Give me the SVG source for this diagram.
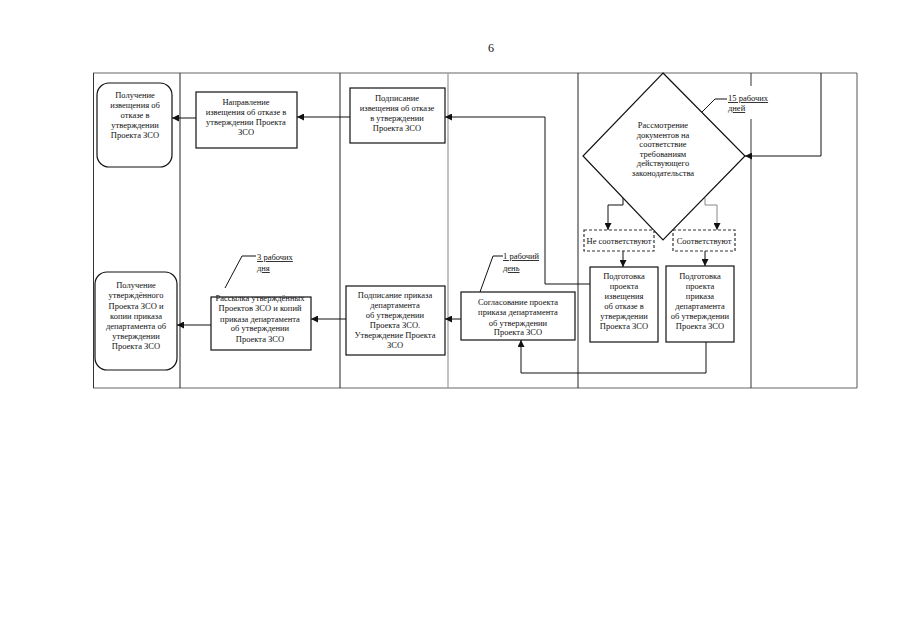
<svg xmlns="http://www.w3.org/2000/svg" width="905" height="640" viewBox="0 0 905 640">
<style>
text{font-family:"Liberation Serif","Times New Roman",serif;font-size:8.5px;fill:#111}
.c{text-anchor:middle}
.box{fill:#fff;stroke:#111;stroke-width:1.2}
.dash{fill:#fff;stroke:#333;stroke-width:1.2;stroke-dasharray:3,2}
.ln{fill:none;stroke:#111;stroke-width:1}
.gl{fill:none;stroke:#888;stroke-width:1}
.lbl{text-decoration:underline}
</style>
<defs>
<marker id="ah" viewBox="0 0 10 10" refX="10" refY="5" markerWidth="7" markerHeight="7" markerUnits="userSpaceOnUse" orient="auto">
<path d="M0,0 L10,5 L0,10 z" fill="#111"/>
</marker>
</defs>
<rect width="905" height="640" fill="#fff"/>
<text x="491" y="52" class="c" style="font-size:12px">6</text>
<g id="frame">
<line x1="93" y1="73" x2="857" y2="73" stroke="#999" stroke-width="1.5"/>
<line x1="93" y1="388" x2="857" y2="388" stroke="#999" stroke-width="1.5"/>
<line x1="93.5" y1="73" x2="93.5" y2="388" stroke="#333"/>
<line x1="857" y1="73" x2="857" y2="388" stroke="#555"/>
<line x1="180" y1="73" x2="180" y2="388" stroke="#222"/>
<line x1="340" y1="73" x2="340" y2="388" stroke="#222"/>
<line x1="448" y1="73" x2="448" y2="388" stroke="#999" stroke-width="1.2"/>
<line x1="578" y1="73" x2="578" y2="388" stroke="#222"/>
<line x1="751" y1="73" x2="751" y2="388" stroke="#333"/>
</g>
<g id="connectors">
<line class="ln" x1="350" y1="117" x2="297" y2="117" marker-end="url(#ah)"/>
<line class="ln" x1="196" y1="118" x2="172" y2="118" stroke-width="2" marker-end="url(#ah)"/>
<polyline class="ln" points="590,284 545,284 545,117 445,117" marker-end="url(#ah)"/>
<polyline class="ln" points="821,73 821,156 745,156" marker-end="url(#ah)"/>
<polyline class="ln" points="623,198 623,205 608,205 608,230" marker-end="url(#ah)"/>
<polyline class="gl" points="705,198 705,205 717,205 717,230" marker-end="url(#ah)"/>
<line class="ln" x1="623" y1="251" x2="623" y2="267" marker-end="url(#ah)"/>
<line class="ln" x1="705" y1="251" x2="705" y2="266" marker-end="url(#ah)"/>
<polyline class="ln" points="706,342 706,373 521,373 521,340" marker-end="url(#ah)"/>
<line class="ln" x1="461" y1="319" x2="445" y2="319" marker-end="url(#ah)"/>
<line class="ln" x1="346" y1="319" x2="311" y2="319" marker-end="url(#ah)"/>
<line class="ln" x1="211" y1="325" x2="177" y2="325" stroke-width="2" marker-end="url(#ah)"/>
</g>
<g id="recv_refusal">
<rect class="box" x="97" y="83" width="75" height="84" rx="12"/>
<text class="c" x="135" y="98">Получение</text>
<text class="c" x="135" y="108">извещения об</text>
<text class="c" x="135" y="118">отказе в</text>
<text class="c" x="135" y="128">утверждении</text>
<text class="c" x="135" y="138">Проекта ЗСО</text>
</g>
<g id="send_refusal">
<rect class="box" x="196" y="92" width="101" height="56"/>
<text class="c" x="246" y="105">Направление</text>
<text class="c" x="246" y="115">извещения об отказе в</text>
<text class="c" x="246" y="125">утверждении Проекта</text>
<text class="c" x="246" y="135">ЗСО</text>
</g>
<g id="sign_refusal">
<rect class="box" x="350" y="88" width="95" height="55"/>
<text class="c" x="397" y="101">Подписание</text>
<text class="c" x="397" y="111">извещения об отказе</text>
<text class="c" x="397" y="121">в утверждении</text>
<text class="c" x="397" y="131">Проекта ЗСО</text>
</g>
<g id="decision">
<polygon class="box" points="663,73 745,156 663,240 583,156"/>
<text class="c" x="663" y="128">Рассмотрение</text>
<text class="c" x="663" y="137.5">документов на</text>
<text class="c" x="663" y="147">соответствие</text>
<text class="c" x="663" y="156.5">требованиям</text>
<text class="c" x="663" y="166">действующего</text>
<text class="c" x="663" y="175.5">законодательства</text>
</g>
<g id="label_15">
<rect x="725" y="86" width="50" height="33" fill="#fff"/>
<polyline class="ln" points="702,112 715,99 727,99"/>
<text class="lbl" x="728" y="101">15 рабочих</text>
<text class="lbl" x="728" y="111">дней</text>
</g>
<g id="not_match">
<rect class="dash" x="584" y="230" width="70" height="21"/>
<text class="c" x="619" y="243.5">Не соответствуют</text>
</g>
<g id="match">
<rect class="dash" x="673" y="230" width="62" height="21"/>
<text class="c" x="704" y="243.5">Соответствуют</text>
</g>
<g id="prep_refusal">
<rect class="box" x="590" y="267" width="68" height="75"/>
<text class="c" x="624" y="279">Подготовка</text>
<text class="c" x="624" y="289">проекта</text>
<text class="c" x="624" y="298.5">извещения</text>
<text class="c" x="624" y="308.5">об отказе в</text>
<text class="c" x="624" y="318.5">утверждении</text>
<text class="c" x="624" y="329">Проекта ЗСО</text>
</g>
<g id="prep_order">
<rect class="box" x="666" y="266" width="68" height="76"/>
<text class="c" x="700" y="279">Подготовка</text>
<text class="c" x="700" y="289">проекта</text>
<text class="c" x="700" y="298.5">приказа</text>
<text class="c" x="700" y="308.5">департамента</text>
<text class="c" x="700" y="318.5">об утверждении</text>
<text class="c" x="700" y="329">Проекта ЗСО</text>
</g>
<g id="agree">
<rect class="box" x="461" y="292" width="114" height="48" stroke-width="2"/>
<text class="c" x="518" y="305">Согласование проекта</text>
<text class="c" x="518" y="315">приказа департамента</text>
<text class="c" x="518" y="325.5">об утверждении</text>
<text class="c" x="518" y="335">Проекта ЗСО</text>
</g>
<g id="label_1">
<polyline class="ln" points="480,292 493,256 503,256"/>
<text class="lbl" x="503" y="259">1 рабочий</text>
<text class="lbl" x="503" y="271">день</text>
</g>
<g id="sign_order">
<rect class="box" x="346" y="286" width="99" height="69"/>
<text class="c" x="395" y="298">Подписание приказа</text>
<text class="c" x="395" y="308">департамента</text>
<text class="c" x="395" y="318">об утверждении</text>
<text class="c" x="395" y="328">Проекта ЗСО.</text>
<text class="c" x="395" y="338">Утверждение Проекта</text>
<text class="c" x="395" y="348">ЗСО</text>
</g>
<g id="mailing">
<rect class="box" x="211" y="297" width="100" height="53"/>
<text class="c" x="260" y="301">Рассылка утверждённых</text>
<text class="c" x="260" y="311">Проектов ЗСО и копий</text>
<text class="c" x="260" y="321.5">приказа департамента</text>
<text class="c" x="260" y="331">об утверждении</text>
<text class="c" x="260" y="341.5">Проекта ЗСО</text>
</g>
<g id="label_3">
<polyline class="ln" points="225,288 242,256 256,256"/>
<text class="lbl" x="257" y="260">3 рабочих</text>
<text class="lbl" x="257" y="271">дня</text>
</g>
<g id="recv_approved">
<rect class="box" x="95" y="272" width="82" height="98" rx="12"/>
<text class="c" x="136" y="288">Получение</text>
<text class="c" x="136" y="298">утверждённого</text>
<text class="c" x="136" y="308.5">Проекта ЗСО и</text>
<text class="c" x="136" y="318.5">копии приказа</text>
<text class="c" x="136" y="328.5">департамента об</text>
<text class="c" x="136" y="339">утверждении</text>
<text class="c" x="136" y="349">Проекта ЗСО</text>
</g>
</svg>
